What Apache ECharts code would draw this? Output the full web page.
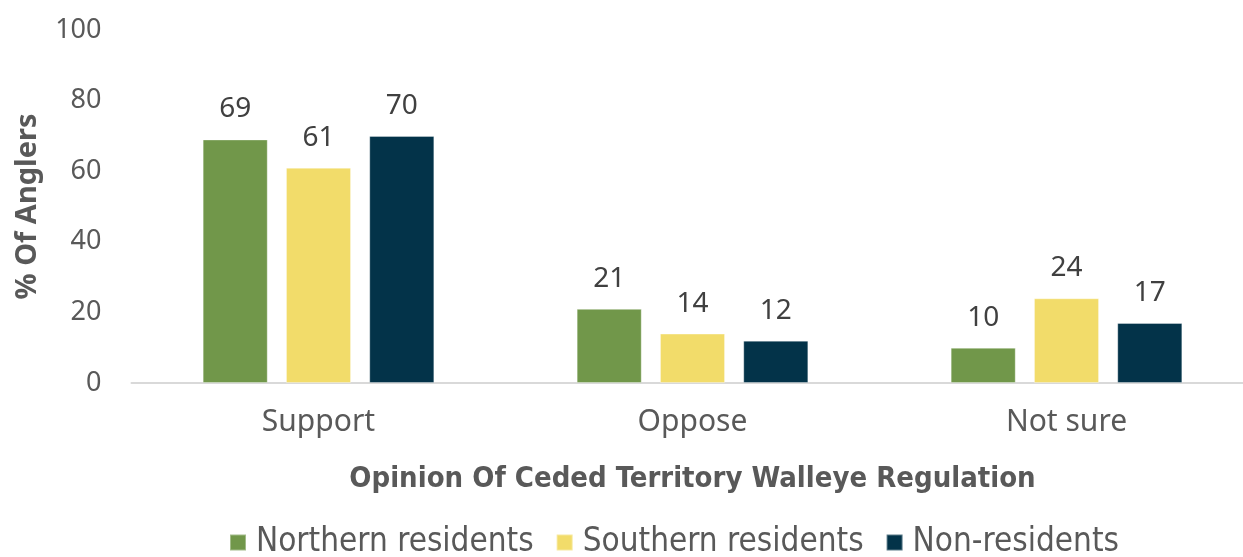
<!DOCTYPE html>
<html>
<head>
<meta charset="utf-8">
<style>
  html, body { margin: 0; padding: 0; background: #ffffff; }
  #chart { width: 1243px; height: 557px; }
</style>
<script src="https://cdn.jsdelivr.net/npm/echarts@6/dist/echarts.min.js"></script>
</head>
<body>
<div id="chart"></div>
<script>
// Opinion categories along the x axis
const categories = ['Support', 'Oppose', 'Not sure'];

// Percent of anglers in each group
const northernResidents = [69, 21, 10];
const southernResidents = [61, 14, 24];
const nonResidents = [70, 12, 17];

const seriesNames = ['Northern residents', 'Southern residents', 'Non-residents'];
const seriesColors = ['#71974A', '#F2DC6A', '#033349'];

const baseFont = '"Noto Sans", sans-serif';
const narrowFont = '"DejaVu Sans Condensed", "Liberation Sans Narrow", sans-serif';

const chart = echarts.init(document.getElementById('chart'));

function barSeries(name, data, color) {
  return {
    name: name,
    type: 'bar',
    data: data,
    barWidth: '17.4%',
    barGap: '28%',
    itemStyle: { color: color, borderColor: 'rgba(255,255,255,0.35)', borderWidth: 1 },
    label: {
      show: true,
      position: 'top',
      distance: 16,
      color: '#404040',
      fontFamily: baseFont,
      fontSize: 28
    }
  };
}

chart.setOption({
  animation: false,
  // plot area runs a little past the right edge of the canvas
  grid: {
    left: 131.5, width: 1122, top: 30, bottom: 174,
    containLabel: false, outerBoundsMode: 'none'
  },
  legend: {
    top: 526,
    left: 229,
    padding: 0,
    itemWidth: 16,
    itemHeight: 16,
    itemGap: 22,
    icon: 'rect',
    textStyle: { color: '#595959', fontFamily: narrowFont, fontSize: 33, padding: [0, 0, 0, 5] },
    data: seriesNames
  },
  xAxis: {
    type: 'category',
    data: categories,
    name: 'Opinion Of Ceded Territory Walleye Regulation',
    nameLocation: 'middle',
    nameGap: 82,
    nameTextStyle: { color: '#595959', fontFamily: narrowFont, fontWeight: 'bold', fontSize: 29 },
    axisLine: { lineStyle: { color: '#D9D9D9', width: 2 } },
    axisTick: { show: false },
    axisLabel: { color: '#595959', fontFamily: baseFont, fontSize: 30, margin: 24 }
  },
  yAxis: {
    type: 'value',
    min: 0,
    max: 100,
    interval: 20,
    name: '% Of Anglers',
    nameLocation: 'middle',
    nameGap: 89,
    nameTextStyle: { color: '#595959', fontFamily: baseFont, fontWeight: 'bold', fontSize: 29 },
    splitLine: { show: false },
    axisLine: { show: false },
    axisTick: { show: false },
    axisLabel: { color: '#595959', fontFamily: baseFont, fontSize: 27, margin: 30 }
  },
  series: [
    barSeries(seriesNames[0], northernResidents, seriesColors[0]),
    barSeries(seriesNames[1], southernResidents, seriesColors[1]),
    barSeries(seriesNames[2], nonResidents, seriesColors[2])
  ]
});
</script>
</body>
</html>
